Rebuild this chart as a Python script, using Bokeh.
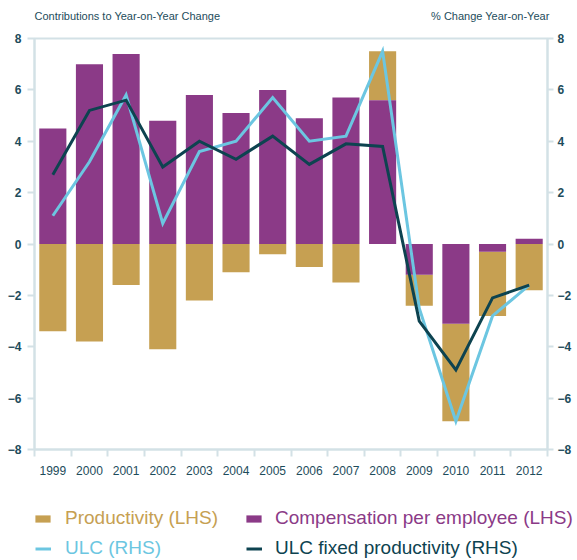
from bokeh.plotting import figure
from bokeh.layouts import column
from bokeh.models import (Range1d, LinearAxis, FixedTicker, Legend, LegendItem,
                          Label, ColumnDataSource)
from bokeh.embed import file_html
from bokeh.resources import INLINE

# ---------------- data ----------------
years = ["1999", "2000", "2001", "2002", "2003", "2004", "2005",
         "2006", "2007", "2008", "2009", "2010", "2011", "2012"]
compensation = [4.5, 7.0, 7.4, 4.8, 5.8, 5.1, 6.0, 4.9, 5.7, 5.6, -1.2, -3.1, -0.3, 0.2]
productivity = [-3.4, -3.8, -1.6, -4.1, -2.2, -1.1, -0.4, -0.9, -1.5, 1.9, -1.2, -3.8, -2.5, -1.8]
ulc = [1.1, 3.2, 5.8, 0.8, 3.6, 4.0, 5.7, 4.0, 4.2, 7.5, -2.5, -6.9, -2.8, -1.6]
ulc_fixed = [2.7, 5.2, 5.6, 3.0, 4.0, 3.3, 4.2, 3.1, 3.9, 3.8, -3.0, -4.9, -2.1, -1.6]
y_ticks = [-8, -6, -4, -2, 0, 2, 4, 6, 8]
series_labels = ["Productivity (LHS)", "Compensation per employee (LHS)",
                 "ULC (RHS)", "ULC fixed productivity (RHS)"]
left_title = "Contributions to Year-on-Year Change"
right_title = "% Change Year-on-Year"

# ---------------- styles ----------------
PURPLE = "#8b3a87"
GOLD = "#c6a052"
LIGHT = "#6cc6e1"
DARK = "#0d4350"
TXT = "#1d4c5b"
AXC = "#d3e1e6"
FONT = "Liberation Sans"
W = 577

# stacking (compensation nearest zero, productivity stacked on the same side)
idx = list(range(len(years)))
comp_bottom = [0.0] * len(years)
prod_bottom = [c if (c * q > 0) else 0.0 for c, q in zip(compensation, productivity)]
prod_top = [b + q for b, q in zip(prod_bottom, productivity)]

src = ColumnDataSource(dict(x=idx, cb=comp_bottom, ct=compensation, pb=prod_bottom,
                            pt=prod_top, ulc=ulc, ulcf=ulc_fixed))


def bare_fig(height):
    fig = figure(width=W, height=height, x_range=Range1d(0, 1), y_range=Range1d(0, 1),
                 output_backend="svg", toolbar_location=None, min_border=0,
                 x_axis_location=None, y_axis_location=None)
    fig.frame_align = False
    fig.xgrid.visible = False
    fig.ygrid.visible = False
    fig.outline_line_color = None
    return fig


# ---------------- header (titles) ----------------
top = bare_fig(30)
top.add_layout(Label(x=34, y=15, x_units="screen", y_units="screen", text=left_title,
                     text_font=FONT, text_font_size="11px", text_color=TXT,
                     text_baseline="middle"))
top.add_layout(Label(x=549, y=15, x_units="screen", y_units="screen", text=right_title,
                     text_font=FONT, text_font_size="11px", text_color=TXT,
                     text_baseline="middle", text_align="right"))

# ---------------- main chart ----------------
p = figure(width=W, height=450, x_range=Range1d(-0.5, 13.5), y_range=Range1d(-8, 8),
           output_backend="svg", toolbar_location=None,
           min_border_left=34, min_border_right=30, min_border_top=8, min_border_bottom=31)
p.frame_align = False
p.extra_y_ranges = {"rhs": Range1d(-8, 8)}
p.xgrid.visible = False
p.ygrid.visible = False
p.outline_line_color = AXC
p.outline_line_width = 2

r_prod = p.vbar(x="x", bottom="pb", top="pt", width=0.74, source=src,
                fill_color=GOLD, line_color=None)
r_comp = p.vbar(x="x", bottom="cb", top="ct", width=0.74, source=src,
                fill_color=PURPLE, line_color=None)
r_ulc = p.line(x="x", y="ulc", source=src, y_range_name="rhs",
               line_color=LIGHT, line_width=3, line_join="miter")
r_ulcf = p.line(x="x", y="ulcf", source=src, y_range_name="rhs",
                line_color=DARK, line_width=3, line_join="miter")

xa = p.xaxis[0]
xa.ticker = FixedTicker(ticks=idx, minor_ticks=[i - 0.5 for i in range(len(years) + 1)])
xa.major_label_overrides = {i: y for i, y in zip(idx, years)}
xa.major_tick_out = 0
xa.major_tick_in = 0
xa.minor_tick_out = 7
xa.minor_tick_in = 0
xa.minor_tick_line_color = AXC
xa.minor_tick_line_width = 2
xa.axis_line_color = AXC
xa.axis_line_width = 2
xa.major_label_standoff = 9
xa.major_label_text_font = FONT
xa.major_label_text_font_size = "12px"
xa.major_label_text_color = TXT

ya = p.yaxis[0]
ya.ticker = FixedTicker(ticks=y_ticks)
ya.minor_tick_line_color = None
ya.major_tick_out = 7
ya.major_tick_in = 0
ya.major_tick_line_color = AXC
ya.major_tick_line_width = 2
ya.axis_line_color = AXC
ya.axis_line_width = 2
ya.major_label_standoff = 6
ya.major_label_text_font = FONT
ya.major_label_text_font_style = "bold"
ya.major_label_text_font_size = "12px"
ya.major_label_text_color = TXT

ra = LinearAxis(y_range_name="rhs", ticker=FixedTicker(ticks=y_ticks))
ra.minor_tick_line_color = None
ra.major_tick_out = 6
ra.major_tick_in = 0
ra.major_tick_line_color = AXC
ra.major_tick_line_width = 2
ra.axis_line_color = AXC
ra.axis_line_width = 2
ra.major_label_standoff = 4
ra.major_label_text_font = FONT
ra.major_label_text_font_style = "bold"
ra.major_label_text_font_size = "12px"
ra.major_label_text_color = TXT
p.add_layout(ra, "right")

# ---------------- legend strip ----------------
leg = bare_fig(80)
# legend-only renderers: their marks sit outside the visible range
far = ColumnDataSource(dict(x=[5, 6], y=[5, 5], b=[4, 4]))
g_prod = leg.vbar(x="x", top="y", bottom="b", width=0.5, source=far,
                  fill_color=GOLD, line_color=None)
g_comp = leg.vbar(x="x", top="y", bottom="b", width=0.5, source=far,
                  fill_color=PURPLE, line_color=None)
g_ulc = leg.line(x="x", y="y", source=far, line_color=LIGHT, line_width=3)
g_ulcf = leg.line(x="x", y="y", source=far, line_color=DARK, line_width=3)


def mk_legend(label, rend, color, loc, gw, gh, standoff):
    lg = Legend(items=[LegendItem(label=label, renderers=[rend])], location=loc,
                orientation="horizontal", background_fill_alpha=0, border_line_alpha=0,
                padding=0, margin=0, spacing=0, glyph_width=gw, glyph_height=gh,
                label_standoff=standoff, label_height=20,
                label_text_font=FONT, label_text_font_size="19px",
                label_text_color=color)
    leg.add_layout(lg, "center")


mk_legend(series_labels[0], g_prod, GOLD, (33, 31), 19, 9, 13)
mk_legend(series_labels[1], g_comp, PURPLE, (244, 31), 19, 9, 12)
mk_legend(series_labels[2], g_ulc, LIGHT, (35, 1), 16, 9, 14)
mk_legend(series_labels[3], g_ulcf, DARK, (246, 1), 16, 9, 13)

layout = column(top, p, leg, spacing=0)
open("out.html", "w").write(file_html(layout, INLINE))
